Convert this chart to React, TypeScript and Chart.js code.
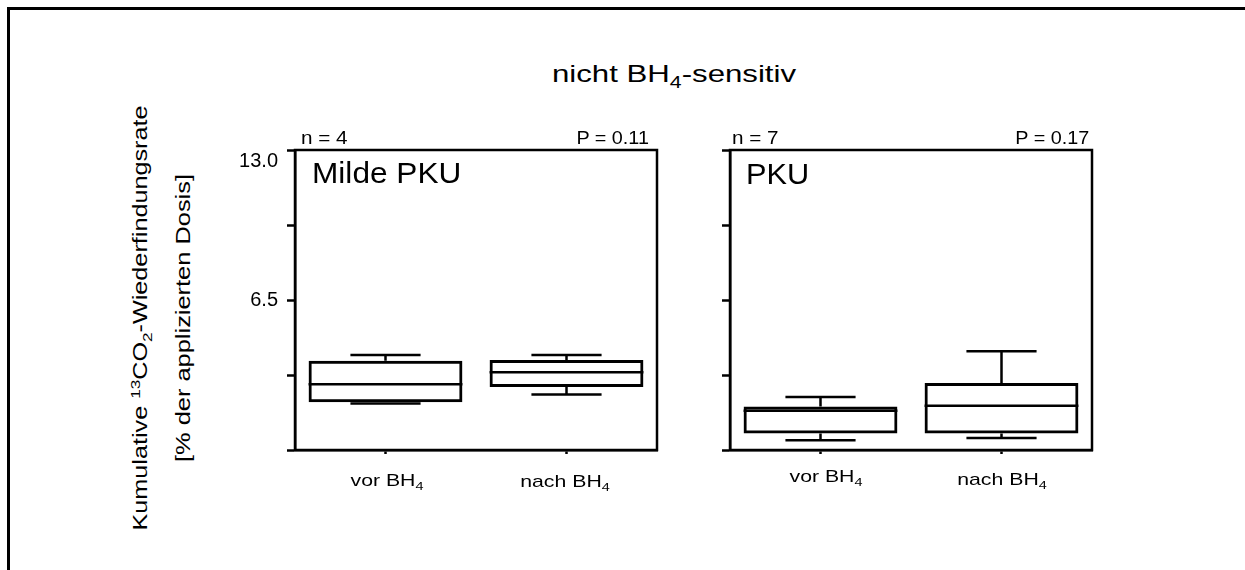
import React, { useEffect, useRef } from 'react';
import { Chart, registerables } from 'chart.js';

Chart.register(...registerables);

// Categories and box-plot statistics (% of applied dose)
const categories = ['vor BH₄', 'nach BH₄'];

const mildMin = [2.01, 2.41];
const mildQ1 = [2.07, 2.73];
const mildMedian = [2.85, 3.37];
const mildQ3 = [3.87, 3.9];
const mildMax = [4.12, 4.12];

const pkuMin = [0.42, 0.52];
const pkuQ1 = [0.72, 0.72];
const pkuMedian = [1.7, 1.92];
const pkuQ3 = [1.88, 2.9];
const pkuMax = [2.3, 4.28];

const yMin = 0;
const yMax = 13;
const yStep = 3.25;
const yLabelValues = [6.5, 13];
const yLabelTexts = ['6.5', '13.0'];

const FONT = '"Liberation Sans", Arial, Helvetica, sans-serif';

type Stats = { min: number[]; q1: number[]; median: number[]; q3: number[]; max: number[] };

const SUB = '₀₁₂₃₄₅₆₇₈₉';
const SUP = '⁰¹²³⁴⁵⁶⁷⁸⁹';

// Turns unicode sub/superscript digits into small shifted spans
function rich(text: string) {
  const runs: { kind: 'n' | 'sub' | 'sup'; s: string }[] = [];
  for (const ch of text) {
    let kind: 'n' | 'sub' | 'sup' = 'n';
    let c = ch;
    const si = SUB.indexOf(ch);
    const pi = SUP.indexOf(ch);
    if (si >= 0) {
      kind = 'sub';
      c = String(si);
    } else if (pi >= 0) {
      kind = 'sup';
      c = String(pi);
    }
    const last = runs[runs.length - 1];
    if (last && last.kind === kind) last.s += c;
    else runs.push({ kind, s: c });
  }
  return runs.map((r, i) =>
    r.kind === 'n' ? (
      <span key={i}>{r.s}</span>
    ) : (
      <span
        key={i}
        style={{
          fontSize: '0.68em',
          lineHeight: 0,
          position: 'relative',
          top: r.kind === 'sub' ? '0.38em' : '-0.52em',
        }}
      >
        {r.s}
      </span>
    )
  );
}

type LabelProps = {
  x: number;
  baseline: number;
  size: number;
  stretch?: number;
  align?: 'left' | 'center' | 'right';
  text: string;
};

function Label({ x, baseline, size, stretch = 1, align = 'left', text }: LabelProps) {
  const top = baseline - 0.8465 * size;
  const style: React.CSSProperties = {
    position: 'absolute',
    top,
    fontSize: size,
    lineHeight: `${size}px`,
    whiteSpace: 'nowrap',
  };
  if (align === 'left') {
    style.left = x;
    style.transformOrigin = 'left center';
    style.transform = `scaleX(${stretch})`;
  } else if (align === 'right') {
    style.right = 1245 - x;
    style.transformOrigin = 'right center';
    style.transform = `scaleX(${stretch})`;
  } else {
    style.left = x;
    style.transform = `translateX(-50%) scaleX(${stretch})`;
  }
  return <div style={style}>{rich(text)}</div>;
}

function VLabel({ cx, cy, size, stretch, text }: { cx: number; cy: number; size: number; stretch: number; text: string }) {
  return (
    <div
      style={{
        position: 'absolute',
        left: cx,
        top: cy,
        fontSize: size,
        lineHeight: `${size}px`,
        whiteSpace: 'nowrap',
        transform: `translate(-50%, -50%) rotate(-90deg) scaleX(${stretch})`,
      }}
    >
      {rich(text)}
    </div>
  );
}

function makePanel(canvas: HTMLCanvasElement, s: Stats, showTickLabels: boolean) {
  const boxParts = {
    id: 'boxParts',
    afterDatasetsDraw(chart: any) {
      const { ctx, chartArea, scales } = chart;
      const x = scales.x;
      const y = scales.y;
      const meta = chart.getDatasetMeta(0);
      ctx.save();
      ctx.strokeStyle = '#000';
      ctx.lineWidth = 2.5;
      ctx.lineCap = 'butt';
      meta.data.forEach((bar: any, i: number) => {
        const cx = x.getPixelForValue(i);
        const half = bar.width / 2;
        const capHalf = bar.width * 0.228;
        const yMinP = y.getPixelForValue(s.min[i]);
        const yQ1 = y.getPixelForValue(s.q1[i]);
        const yMed = y.getPixelForValue(s.median[i]);
        const yQ3 = y.getPixelForValue(s.q3[i]);
        const yMaxP = y.getPixelForValue(s.max[i]);
        ctx.beginPath();
        // median
        ctx.moveTo(cx - half, yMed);
        ctx.lineTo(cx + half, yMed);
        // upper whisker and cap
        ctx.moveTo(cx, yQ3);
        ctx.lineTo(cx, yMaxP);
        ctx.moveTo(cx - capHalf, yMaxP);
        ctx.lineTo(cx + capHalf, yMaxP);
        // lower whisker and cap
        ctx.moveTo(cx, yQ1);
        ctx.lineTo(cx, yMinP);
        ctx.moveTo(cx - capHalf, yMinP);
        ctx.lineTo(cx + capHalf, yMinP);
        ctx.stroke();
      });
      // panel frame
      ctx.lineWidth = 2.5;
      ctx.strokeRect(chartArea.left, chartArea.top, chartArea.right - chartArea.left, chartArea.bottom - chartArea.top);
      if (showTickLabels) {
        ctx.fillStyle = '#000';
        ctx.font = `20px ${FONT}`;
        ctx.textAlign = 'right';
        ctx.textBaseline = 'middle';
        yLabelValues.forEach((v, k) => {
          const py = Math.max(y.getPixelForValue(v), chartArea.top + 11);
          ctx.fillText(yLabelTexts[k], chartArea.left - 17, py);
        });
      }
      ctx.restore();
    },
  };

  return new Chart(canvas, {
    type: 'bar',
    data: {
      labels: categories,
      datasets: [
        {
          data: s.q1.map((v, i) => [v, s.q3[i]]) as any,
          backgroundColor: 'rgba(0,0,0,0)',
          borderColor: '#000',
          borderWidth: 3,
          borderSkipped: false,
          barPercentage: 0.85,
          categoryPercentage: 1,
        },
      ],
    },
    options: {
      responsive: false,
      animation: false,
      events: [],
      layout: { padding: { top: 20, right: 13, left: 0, bottom: 0 } },
      plugins: { legend: { display: false }, tooltip: { enabled: false }, title: { display: false } },
      scales: {
        x: {
          type: 'category',
          offset: true,
          grid: { display: true, drawOnChartArea: false, offset: false, tickLength: 4, tickColor: '#000', tickWidth: 2.5 },
          border: { display: true, color: '#000', width: 2.5 },
          ticks: { display: false },
          afterFit: (scale: any) => {
            scale.height = 25;
          },
        },
        y: {
          min: yMin,
          max: yMax,
          ticks: { display: false, stepSize: yStep },
          grid: { display: true, drawOnChartArea: false, tickLength: 8, tickColor: '#000', tickWidth: 2.5 },
          border: { display: true, color: '#000', width: 2.5 },
          afterFit: (scale: any) => {
            scale.width = 75;
          },
        },
      },
    },
    plugins: [boxParts],
  });
}

export default function App() {
  const c1 = useRef<HTMLCanvasElement>(null);
  const c2 = useRef<HTMLCanvasElement>(null);

  useEffect(() => {
    const a = makePanel(c1.current!, { min: mildMin, q1: mildQ1, median: mildMedian, q3: mildQ3, max: mildMax }, true);
    const b = makePanel(c2.current!, { min: pkuMin, q1: pkuQ1, median: pkuMedian, q3: pkuQ3, max: pkuMax }, false);
    return () => {
      a.destroy();
      b.destroy();
    };
  }, []);

  const canvasStyle = (left: number): React.CSSProperties => ({
    position: 'absolute',
    left,
    top: 130,
    width: 450,
    height: 345,
  });

  return (
    <div
      style={{
        position: 'fixed',
        left: 0,
        top: 0,
        width: 1245,
        height: 570,
        background: '#fff',
        color: '#000',
        fontFamily: FONT,
        overflow: 'hidden',
      }}
    >
      {/* outer frame (top and left edges) */}
      <div style={{ position: 'absolute', left: 7, top: 7, width: 1238, height: 2.5, background: '#000' }} />
      <div style={{ position: 'absolute', left: 7, top: 7, width: 2.5, height: 563, background: '#000' }} />

      <canvas ref={c1} width={450} height={345} style={canvasStyle(220)} />
      <canvas ref={c2} width={450} height={345} style={canvasStyle(655)} />

      <Label x={674} baseline={82} size={24} stretch={1.3} align="center" text="nicht BH₄-sensitiv" />

      <VLabel cx={140} cy={318} size={20} stretch={1.26} text="Kumulative ¹³CO₂-Wiederfindungsrate" />
      <VLabel cx={183} cy={318} size={20} stretch={1.27} text="[% der applizierten Dosis]" />

      <Label x={301} baseline={144} size={18} stretch={1.15} text="n = 4" />
      <Label x={649} baseline={144} size={18} stretch={1.1} align="right" text="P = 0.11" />
      <Label x={312} baseline={184} size={29} stretch={1.09} text="Milde PKU" />

      <Label x={732} baseline={144} size={18} stretch={1.15} text="n = 7" />
      <Label x={1089} baseline={144} size={18} stretch={1.1} align="right" text="P = 0.17" />
      <Label x={746} baseline={185} size={29} stretch={1.06} text="PKU" />

      <Label x={387} baseline={486} size={17} stretch={1.25} align="center" text={categories[0]} />
      <Label x={565} baseline={487} size={17} stretch={1.25} align="center" text={categories[1]} />
      <Label x={826} baseline={482} size={17} stretch={1.25} align="center" text={categories[0]} />
      <Label x={1002} baseline={485} size={17} stretch={1.25} align="center" text={categories[1]} />
    </div>
  );
}
